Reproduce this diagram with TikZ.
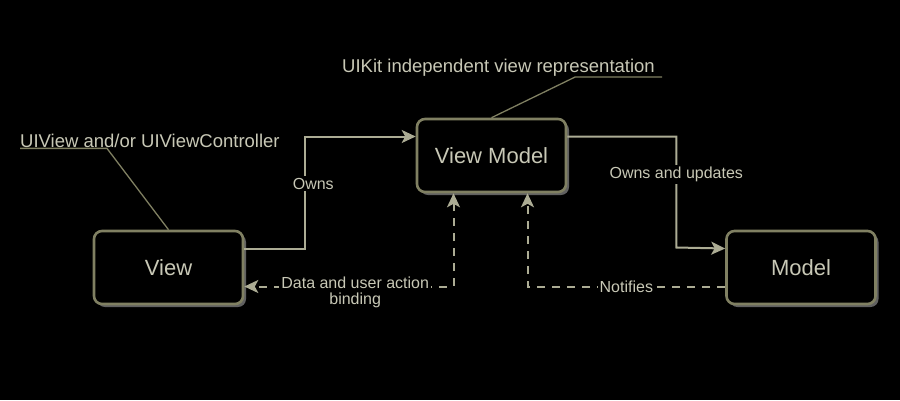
\documentclass[tikz,border=0pt]{standalone}
\usepackage{fontspec}
\setmainfont{Liberation Sans}
\usetikzlibrary{arrows.meta,shadows}

\definecolor{boxline}{RGB}{128,128,98}
\definecolor{arrowline}{RGB}{172,172,148}
\definecolor{labeltext}{RGB}{200,200,182}

\tikzset{%
  etape/.style={draw=boxline, line width=2.6pt, fill=black, rounded corners=8pt, text=labeltext, minimum width=149pt, minimum height=73pt, font=\fontsize{22}{26}\selectfont, drop shadow={shadow xshift=3pt, shadow yshift=-3pt, fill=gray!60, opacity=.55}},
  texto/.style={fill=black, text=labeltext, inner sep=2pt, font=\fontsize{16}{16}\selectfont, align=center},
  notetext/.style={text=labeltext, inner sep=0pt, font=\fontsize{18.5}{22}\selectfont},
  line/.style={draw, line width=2pt, color=arrowline, -{Stealth[length=14pt,width=13pt,inset=3.5pt]}},
  linepart/.style={line, dash pattern=on 8pt off 7pt},
  noteline/.style={draw, line width=1.3pt, color=boxline},
}

\begin{document}
\begin{tikzpicture}[x=1pt,y=-1pt]
\fill[black] (0,0) rectangle (900,400);
\useasboundingbox (0,0) rectangle (900,400);

\node [etape] (view) at (168.5,267.5) {View};
\node [etape] (vm) at (491.5,155.5) {View Model};
\node [etape] (model) at (801,267.5) {Model};

% annotations
\node [notetext, anchor=base west] (viewnote) at (20,147) {UIView and/or UIViewController};
\node [notetext, anchor=base west] (vmnote) at (342,72) {UIKit independent view representation};
\draw [noteline] ([yshift=-1pt]viewnote.south west) -- ++(87,0) -- (view.north);
\draw [noteline] ([xshift=7pt,yshift=-1pt]vmnote.south east) -- ++(-87,0) -- (vm.north);

% ownership
\draw [line] ([yshift=19pt]view.east) -- ++(61,0) |- ([yshift=19pt]vm.west)
  node [texto, pos=.29, xshift=8pt] {Owns};
\draw [line] ([yshift=19pt]vm.east) -| ++(109,111)
  node [texto, pos=.67] {Owns and updates} -- ([yshift=19pt]model.west);

% binding
\draw [linepart, {Stealth[length=14pt,width=13pt,inset=3.5pt]}-{Stealth[length=14pt,width=13pt,inset=3.5pt]}]
  ([xshift=-38pt]vm.south) |- ([yshift=-19pt]view.east)
  node [texto, pos=.735, anchor=north, yshift=13pt] {Data and user action\\binding};
\draw [linepart] ([yshift=-19pt]model.west) -| ([xshift=36pt]vm.south)
  node [texto, pos=.25] {Notifies};
\end{tikzpicture}
\end{document}
